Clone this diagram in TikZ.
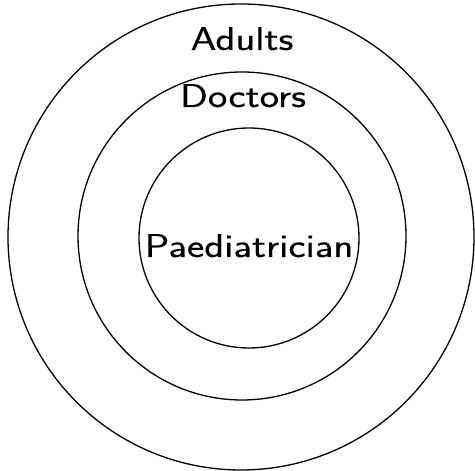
\documentclass[tikz,border=0pt]{standalone}
\usepackage{fontspec}
\setsansfont[FakeStretch=1.25,FakeBold=0.3]{Latin Modern Sans}
\tikzset{
  ring/.style={shape=circle, draw, line width=1.3pt, inner sep=0pt},
  ringlabel/.style={anchor=base, font=\sffamily\fontsize{33}{36}\selectfont, inner sep=0pt}
}
\begin{document}
\begin{tikzpicture}[x=1pt,y=1pt]
\useasboundingbox (0,0) rectangle (475,471);

\node[ring, minimum size=466pt] (adults) at (241.0,234.0) {};
\node[ring, minimum size=328pt] (doctors) at (242.0,235.0) {};
\node[ring, minimum size=220pt] (paed) at (249.0,233.0) {};
\node[ringlabel] (adultstext) at (242.0,421.0) {Adults};
\node[ringlabel] (doctorstext) at (243.0,364.0) {Doctors};
\node[ringlabel] (paedtext) at (249.0,214.0) {Paediatrician};
\end{tikzpicture}
\end{document}
